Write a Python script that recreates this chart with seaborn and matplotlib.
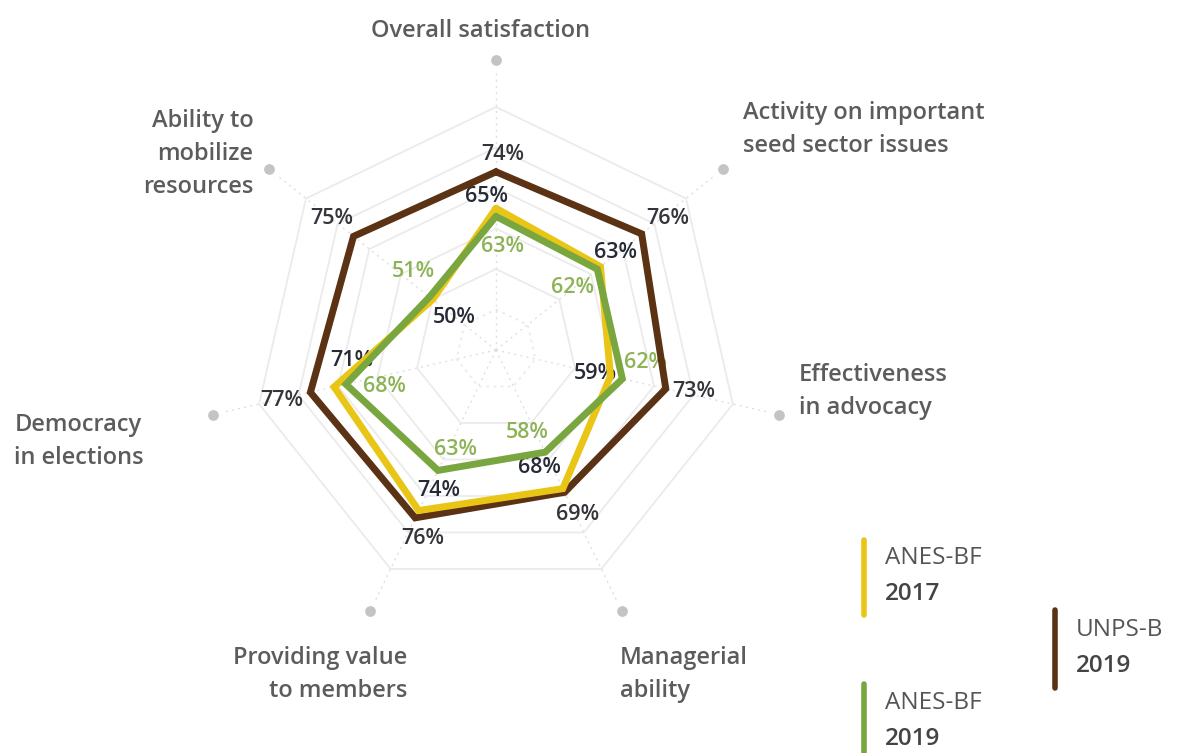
import numpy as np
import pandas as pd
import matplotlib
matplotlib.use("Agg")
import matplotlib.pyplot as plt
import seaborn as sns
from matplotlib.lines import Line2D

# ---------------- data ----------------
categories = [
    "Overall satisfaction",
    "Activity on important\nseed sector issues",
    "Effectiveness\nin advocacy",
    "Managerial\nability",
    "Providing value\nto members",
    "Democracy\nin elections",
    "Ability to\nmobilize\nresources",
]
series_names = ["UNPS-B 2019", "ANES-BF 2017", "ANES-BF 2019"]
unps_b_2019 = [74, 76, 73, 69, 76, 77, 75]
anes_bf_2017 = [65, 63, 59, 68, 74, 71, 50]
anes_bf_2019 = [63, 62, 62, 58, 63, 68, 51]
ring_levels = [40, 50, 60, 70, 80, 90]
legend_line1 = ["ANES-BF", "UNPS-B", "ANES-BF"]
legend_line2 = ["2017", "2019", "2019"]

# ---------------- styles / layout ----------------
colors = {"UNPS-B 2019": "#5b3213", "ANES-BF 2017": "#e9c516", "ANES-BF 2019": "#79a63f"}
label_colors = {"UNPS-B 2019": "#34343a", "ANES-BF 2017": "#262a36", "ANES-BF 2019": "#8db357"}
R_MIN, R_MAX, DOT_R = 30, 102, 101.6

# label offsets (pixels, dx right, dy down) relative to each vertex
label_offsets = {
    "UNPS-B 2019": [(7, -17), (26, -15), (28, 3), (13, 22), (8, 21), (-29, 8), (-22, -18)],
    "ANES-BF 2017": [(-9, -12), (15, -14), (-15, -3), (-23, -21), (20, -20), (18, -26), (22, 18)],
    "ANES-BF 2019": [(6, 30), (-25, 18), (23, -16), (-18, -20), (17, -21), (38, 2), (-16, -25)],
}
# category label placement relative to grey dots: (dx, dy_down, ha)
cat_offsets = [(-15, -29, "center"), (20, -40, "left"), (20, -23, "left"),
               (-2, 63, "left"), (37, 63, "right"), (-199, 27, "left"), (-16, -15, "right")]

sns.set_theme(style="white")
plt.rcParams["font.family"] = ["Open Sans", "DejaVu Sans"]

W, H = 1179, 753
fig = plt.figure(figsize=(W / 100, H / 100), dpi=100)
fig.patch.set_facecolor("white")
cx, cy, rad = 496, 350, 291.6
ax = fig.add_axes([(cx - rad) / W, (H - cy - rad) / H, 2 * rad / W, 2 * rad / H],
                  projection="polar")
ax.set_theta_zero_location("N")
ax.set_theta_direction(-1)
ax.set_ylim(R_MIN, R_MAX)
ax.grid(False)
ax.set_xticks([])
ax.set_yticks([])
ax.spines["polar"].set_visible(False)
ax.patch.set_alpha(0)

n = len(categories)
theta = np.linspace(0, 2 * np.pi, n, endpoint=False)
theta_closed = np.append(theta, 2 * np.pi)

# grid rings (heptagons)
for i, lv in enumerate(ring_levels):
    ax.plot(theta_closed, [lv] * (n + 1), color="#ebebeb", lw=1.3,
            ls=(0, (1.5, 2.5)) if i == 0 else "-", zorder=1)
# spokes
for t in theta:
    ax.plot([t, t], [R_MIN, DOT_R - 3], color="#e0e0e0", lw=1.0, ls=(0, (1.5, 3)), zorder=1)
# dots
ax.scatter(theta, [DOT_R] * n, s=45, color="#c4c4c4", zorder=2, clip_on=False)

# data lines
values = {"UNPS-B 2019": unps_b_2019, "ANES-BF 2017": anes_bf_2017, "ANES-BF 2019": anes_bf_2019}
rows = []
for s in series_names:
    v = values[s]
    for t, val in zip(theta_closed, v + v[:1]):
        rows.append({"theta": t, "value": val, "series": s})
df = pd.DataFrame(rows)
sns.lineplot(data=df, x="theta", y="value", hue="series", hue_order=series_names,
             palette=colors, sort=False, estimator=None, lw=5, legend=False,
             ax=ax, zorder=4)
for line in ax.get_lines()[-3:]:
    line.set_solid_joinstyle("miter")
ax.set_xlabel("")
ax.set_ylabel("")

# value labels
for s in series_names:
    for i, val in enumerate(values[s]):
        dx, dy = label_offsets[s][i]
        ax.annotate(f"{val}%", xy=(theta[i], val), xytext=(dx, -dy),
                    textcoords="offset pixels", ha="center", va="center",
                    fontsize=15.5, color=label_colors[s], fontweight="semibold", zorder=3)

# category labels
for i, cat in enumerate(categories):
    dx, dy, ha = cat_offsets[i]
    ax.annotate(cat, xy=(theta[i], DOT_R), xytext=(dx, -dy), textcoords="offset pixels",
                ha=ha, va="center", multialignment=ha, fontsize=17, color="#5c5c5c",
                fontweight="semibold", linespacing=1.5, annotation_clip=False)

# legend
leg_pos = [(864, 540, 615), (1055, 610, 688), (864, 684, 760)]
leg_colors = [colors["ANES-BF 2017"], colors["UNPS-B 2019"], colors["ANES-BF 2019"]]
for (x, y0, y1), c, t1, t2 in zip(leg_pos, leg_colors, legend_line1, legend_line2):
    fig.add_artist(Line2D([x / W, x / W], [1 - y0 / H, 1 - y1 / H], transform=fig.transFigure,
                          color=c, lw=4, solid_capstyle="round"))
    ymid = (y0 + y1) / 2
    fig.text((x + 21) / W, 1 - (ymid - 19) / H, t1, fontsize=17.5, color="#555555",
             ha="left", va="center")
    fig.text((x + 21) / W, 1 - (ymid + 17) / H, t2, fontsize=17.5, color="#444444",
             ha="left", va="center", fontweight="semibold")

fig.savefig("out.png", dpi=100, facecolor="white")
